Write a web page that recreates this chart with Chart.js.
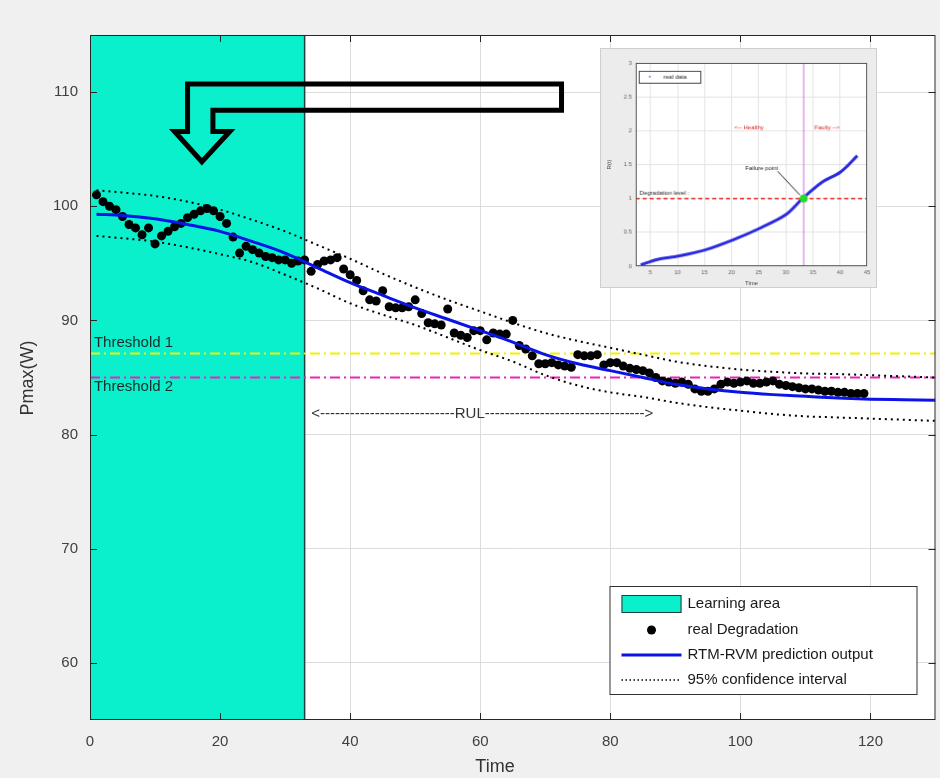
<!DOCTYPE html>
<html>
<head>
<meta charset="utf-8">
<script src="https://cdn.jsdelivr.net/npm/chart.js@4.4.0/dist/chart.umd.min.js"></script>
<style>
  body { margin: 0; background: #f0f0f0; }
  #wrap { position: relative; width: 940px; height: 778px; overflow: hidden; }
  #chart { position: absolute; left: 0; top: 0; }
  #inset { position: absolute; left: 600px; top: 48px; background: #ececec; border: 1px solid #cfcfcf; }
</style>
</head>
<body>
<div id="wrap">
  <canvas id="chart" width="940" height="778"></canvas>
  <canvas id="inset" width="277" height="240"></canvas>
</div>
<script>
// measured degradation (Time, Pmax)
const obsTime = [1,2,3,4,5,6,7,8,9,10,11,12,13,14,15,16,17,18,19,20,
  21,22,23,24,25,26,27,28,29,30,31,32,33,34,35,36,37,38,39,40,
  41,42,43,44,45,46,47,48,49,50,51,52,53,54,55,56,57,58,59,60,
  61,62,63,64,65,66,67,68,69,70,71,72,73,74,75,76,77,78,79,80,
  81,82,83,84,85,86,87,88,89,90,91,92,93,94,95,96,97,98,99,100,
  101,102,103,104,105,106,107,108,109,110,111,112,113,114,115,116,117,118,119];
const obsPmax = [101.0,100.4,100.0,99.7,99.1,98.4,98.1,97.5,98.1,96.7,97.4,97.8,98.2,98.5,99.0,99.3,99.6,99.8,99.6,99.1,
  98.5,97.3,95.9,96.5,96.2,95.9,95.6,95.5,95.3,95.3,95.0,95.2,95.3,94.3,94.9,95.2,95.3,95.5,94.5,94.0,
  93.5,92.6,91.8,91.7,92.6,91.2,91.1,91.1,91.2,91.8,90.6,89.8,89.7,89.6,91.0,88.9,88.7,88.5,89.1,89.1,
  88.3,88.9,88.8,88.8,90.0,87.8,87.5,86.9,86.2,86.2,86.3,86.1,86.0,85.9,87.0,86.9,86.9,87.0,86.1,86.3,
  86.3,86.0,85.8,85.7,85.6,85.4,85.0,84.7,84.6,84.5,84.6,84.4,84.0,83.8,83.8,84.0,84.4,84.6,84.5,84.6,
  84.7,84.5,84.5,84.6,84.7,84.4,84.3,84.2,84.1,84.0,84.0,83.9,83.8,83.8,83.7,83.7,83.6,83.6,83.6];

// RTM-RVM prediction and 95% band
const fitTime = [1,5,10,15,20,25,30,35,40,45,50,55,60,65,70,75,80,85,90,95,100,105,110,115,120,125,130];
const fitPmax = [99.3,99.2,98.9,98.4,97.8,96.9,95.9,94.6,93.3,92.2,91.1,90.1,89.1,88.1,87.0,86.2,85.6,85.0,84.4,84.0,83.7,83.5,83.35,83.2,83.1,83.05,83.0];
const ciUpper = [101.4,101.2,100.9,100.4,99.7,98.8,97.8,96.6,95.4,94.1,92.9,91.8,90.8,89.8,88.9,88.2,87.6,87.0,86.4,86.0,85.7,85.5,85.35,85.3,85.2,85.1,85.0];
const ciLower = [97.4,97.2,96.9,96.4,95.8,95.1,94.0,92.8,91.5,90.5,89.6,88.5,87.4,86.4,85.2,84.3,83.7,83.3,82.8,82.4,82.1,81.8,81.6,81.5,81.4,81.3,81.2];

const learnStart = 0, learnEnd = 33;
const threshold1 = 87.1, threshold2 = 85.0;
const rulStart = 34, rulEnd = 86.7, rulLevel = 81.8;
const xRange = [0, 130], yRange = [55, 115];
const xTicks = [0,20,40,60,80,100,120];
const yTicks = [60,70,80,90,100,110];
const legendLabels = ['Learning area', 'real Degradation', 'RTM-RVM prediction output', '95% confidence interval'];

// inset (small figure pasted in the corner)
const insetTime = [3.2,6.3,10.2,15.1,20.3,25.2,30.0,33.1,36.7,40.1,43.2];
const insetValue = [0.02,0.10,0.15,0.24,0.39,0.56,0.76,1.00,1.24,1.39,1.63];
const insetXTicks = [5,10,15,20,25,30,35,40,45];
const insetYTicks = [0,0.5,1,1.5,2,2.5,3];
const insetThreshold = 1.0, insetFailTime = 33.3;

const TEAL = '#0af0cc';
const FONT = '"Liberation Sans", Arial, sans-serif';

const pts = (xs, ys) => xs.map((x, i) => ({ x, y: ys[i] }));

const frame = {
  id: 'frame',
  beforeDraw(chart) {
    const { ctx, chartArea: a } = chart;
    ctx.save();
    ctx.fillStyle = '#ffffff';
    ctx.fillRect(a.left, a.top, a.right - a.left, a.bottom - a.top);
    ctx.restore();
  },
  afterDatasetsDraw(chart) {
    const { ctx, chartArea: a, scales: { x, y } } = chart;
    ctx.save();
    ctx.strokeStyle = '#262626';
    ctx.lineWidth = 1;
    ctx.strokeRect(a.left + 0.5, a.top + 0.5, a.right - a.left - 1, a.bottom - a.top - 1);
    ctx.beginPath();
    xTicks.forEach(v => {
      const px = Math.round(x.getPixelForValue(v)) + 0.5;
      ctx.moveTo(px, a.bottom); ctx.lineTo(px, a.bottom - 7);
      ctx.moveTo(px, a.top); ctx.lineTo(px, a.top + 7);
    });
    yTicks.forEach(v => {
      const py = Math.round(y.getPixelForValue(v)) + 0.5;
      ctx.moveTo(a.left, py); ctx.lineTo(a.left + 7, py);
      ctx.moveTo(a.right, py); ctx.lineTo(a.right - 7, py);
    });
    ctx.stroke();

    // threshold labels
    ctx.font = '15px ' + FONT;
    ctx.fillStyle = '#1c2a2a';
    ctx.textAlign = 'left';
    ctx.textBaseline = 'bottom';
    ctx.fillText('Threshold 1', x.getPixelForValue(0.6), y.getPixelForValue(threshold1) - 3);
    ctx.textBaseline = 'top';
    ctx.fillText('Threshold 2', x.getPixelForValue(0.6), y.getPixelForValue(threshold2) + 2);

    // RUL span written with dashes
    const x0 = x.getPixelForValue(rulStart), x1 = x.getPixelForValue(rulEnd);
    const yr = y.getPixelForValue(rulLevel);
    ctx.fillStyle = '#333333';
    ctx.textBaseline = 'middle';
    const mid = x0 + (x1 - x0) * 0.46;
    const wR = ctx.measureText('RUL').width;
    const wD = ctx.measureText('-').width;
    const nL = Math.max(0, Math.round((mid - wR / 2 - x0 - ctx.measureText('<').width) / wD));
    const nR = Math.max(0, Math.round((x1 - (mid + wR / 2) - ctx.measureText('>').width) / wD));
    ctx.fillText('<' + '-'.repeat(nL) + 'RUL' + '-'.repeat(nR) + '>', x0, yr);

    // bent outline arrow pointing into the learning area
    const shape = [[72.5,110.7],[15,110.7],[15,106.55],[13,106.55],[17.2,103.9],[21.5,106.55],[18.9,106.55],[18.9,108.4],[72.5,108.4]];
    ctx.beginPath();
    shape.forEach(([vx, vy], i) => {
      const px = x.getPixelForValue(vx), py = y.getPixelForValue(vy);
      if (i === 0) ctx.moveTo(px, py); else ctx.lineTo(px, py);
    });
    ctx.closePath();
    ctx.lineWidth = 5;
    ctx.lineJoin = 'miter';
    ctx.strokeStyle = '#000000';
    ctx.stroke();

    // legend box
    const bw = 307, bh = 108;
    const bx = a.right - 19 - bw, by = a.bottom - 26 - bh;
    ctx.fillStyle = '#ffffff';
    ctx.fillRect(bx, by, bw, bh);
    ctx.lineWidth = 1;
    ctx.strokeStyle = '#333333';
    ctx.strokeRect(bx + 0.5, by + 0.5, bw, bh);
    const rows = [by + 18, by + 44, by + 69, by + 94];
    const ix0 = bx + 12, ix1 = bx + 72;
    // teal patch
    ctx.fillStyle = TEAL;
    ctx.fillRect(ix0, rows[0] - 9, ix1 - ix0, 18);
    ctx.strokeStyle = '#1f4040';
    ctx.strokeRect(ix0 + 0.5, rows[0] - 8.5, ix1 - ix0 - 1, 17);
    // dot
    ctx.fillStyle = '#000000';
    ctx.beginPath(); ctx.arc((ix0 + ix1) / 2, rows[1], 4.5, 0, Math.PI * 2); ctx.fill();
    // blue line
    ctx.strokeStyle = '#0a14e6'; ctx.lineWidth = 3;
    ctx.beginPath(); ctx.moveTo(ix0, rows[2]); ctx.lineTo(ix1, rows[2]); ctx.stroke();
    // dotted
    ctx.strokeStyle = '#000000'; ctx.lineWidth = 1.5; ctx.setLineDash([1.5, 2.5]);
    ctx.beginPath(); ctx.moveTo(ix0, rows[3]); ctx.lineTo(ix1, rows[3]); ctx.stroke();
    ctx.setLineDash([]);
    ctx.fillStyle = '#1a1a1a';
    ctx.font = '15px ' + FONT;
    ctx.textAlign = 'left';
    ctx.textBaseline = 'middle';
    legendLabels.forEach((t, i) => ctx.fillText(t, ix1 + 6, rows[i]));

    // axis titles
    ctx.fillStyle = '#333333';
    ctx.font = '18px ' + FONT;
    ctx.textAlign = 'center';
    ctx.textBaseline = 'middle';
    ctx.fillText('Time', 495, 767);
    ctx.translate(28, 378);
    ctx.rotate(-Math.PI / 2);
    ctx.fillText('Pmax(W)', 0, 0);
    ctx.restore();
  }
};

new Chart(document.getElementById('chart'), {
  type: 'line',
  data: {
    datasets: [
      { data: pts(fitTime, ciUpper), borderColor: '#000', borderWidth: 2, borderDash: [2, 4],
        pointRadius: 0, cubicInterpolationMode: 'monotone', order: 1 },
      { data: pts(fitTime, ciLower), borderColor: '#000', borderWidth: 2, borderDash: [2, 4],
        pointRadius: 0, cubicInterpolationMode: 'monotone', order: 1 },
      { data: pts(fitTime, fitPmax), borderColor: '#0a14e6', borderWidth: 3,
        pointRadius: 0, cubicInterpolationMode: 'monotone', order: 2 },
      { data: pts(obsTime, obsPmax), showLine: false, pointRadius: 4.5,
        pointBackgroundColor: '#000', pointBorderWidth: 0, order: 3 },
      { data: [{ x: xRange[0], y: threshold1 }, { x: xRange[1], y: threshold1 }], borderColor: '#f2f200',
        borderWidth: 2, borderDash: [10, 4, 2, 4], pointRadius: 0, order: 4 },
      { data: [{ x: xRange[0], y: threshold2 }, { x: xRange[1], y: threshold2 }], borderColor: '#f020c0',
        borderWidth: 2, borderDash: [10, 4, 2, 4], pointRadius: 0, order: 4 },
      { data: [{ x: learnStart, y: yRange[0] }, { x: learnStart, y: yRange[1] }, { x: learnEnd, y: yRange[1] }, { x: learnEnd, y: yRange[0] }],
        borderColor: '#1f4040', borderWidth: 1.5, pointRadius: 0, order: 5 },
      { data: [{ x: learnStart, y: yRange[1] }, { x: learnEnd, y: yRange[1] }], fill: { value: yRange[0] },
        backgroundColor: TEAL, borderWidth: 0, pointRadius: 0, order: 6 }
    ]
  },
  options: {
    responsive: false,
    animation: false,
    layout: { padding: { top: 35, right: 3, left: 0, bottom: 0 } },
    plugins: { legend: { display: false }, tooltip: { enabled: false } },
    scales: {
      x: {
        type: 'linear', min: xRange[0], max: xRange[1],
        afterBuildTicks: s => { s.ticks = xTicks.map(v => ({ value: v })); },
        afterFit: s => { s.height = 58; },
        grid: { color: '#dcdcdc', drawTicks: false },
        border: { display: false },
        ticks: { padding: 13, color: '#404040', font: { family: FONT, size: 15 }, maxRotation: 0 }
      },
      y: {
        type: 'linear', min: yRange[0], max: yRange[1],
        afterBuildTicks: s => { s.ticks = yTicks.map(v => ({ value: v })); },
        afterFit: s => { s.width = 90; },
        grid: { color: '#dcdcdc', drawTicks: false },
        border: { display: false },
        ticks: { padding: 12, color: '#404040', font: { family: FONT, size: 15 } }
      }
    }
  },
  plugins: [frame]
});

// ---- inset ----
const insetDeco = {
  id: 'insetDeco',
  beforeDraw(chart) {
    const { ctx, chartArea: a } = chart;
    ctx.save();
    ctx.fillStyle = '#ffffff';
    ctx.fillRect(a.left, a.top, a.right - a.left, a.bottom - a.top);
    ctx.restore();
  },
  afterDatasetsDraw(chart) {
    const { ctx, chartArea: a, scales: { x, y } } = chart;
    ctx.save();
    ctx.strokeStyle = '#555';
    ctx.lineWidth = 1;
    ctx.strokeRect(a.left + 0.5, a.top + 0.5, a.right - a.left - 1, a.bottom - a.top - 1);
    ctx.font = '6px ' + FONT;
    ctx.textBaseline = 'middle';
    // legend
    ctx.fillStyle = '#fff';
    ctx.fillRect(a.left + 3, a.top + 8, 62, 12);
    ctx.strokeStyle = '#444';
    ctx.strokeRect(a.left + 3.5, a.top + 8.5, 62, 12);
    ctx.fillStyle = '#2222cc';
    ctx.fillText('*', a.left + 13, a.top + 15);
    ctx.fillStyle = '#222';
    ctx.fillText('real data', a.left + 28, a.top + 14.5);
    // red annotations
    ctx.fillStyle = '#e02020';
    ctx.fillText('<-- Healthy', x.getPixelForValue(20.5), y.getPixelForValue(2.05));
    ctx.fillText('Faulty -->', x.getPixelForValue(35.3), y.getPixelForValue(2.05));
    ctx.fillStyle = '#222';
    ctx.fillText('Degradation level :', x.getPixelForValue(3), y.getPixelForValue(1.08));
    ctx.fillText('Failure point', x.getPixelForValue(22.5), y.getPixelForValue(1.45));
    ctx.strokeStyle = '#222';
    ctx.beginPath();
    ctx.moveTo(x.getPixelForValue(28.5), y.getPixelForValue(1.4));
    ctx.lineTo(x.getPixelForValue(32.6), y.getPixelForValue(1.05));
    ctx.stroke();
    // axis titles
    ctx.fillStyle = '#444';
    ctx.textAlign = 'center';
    ctx.fillText('Time', (a.left + a.right) / 2, a.bottom + 17);
    ctx.translate(a.left - 27, (a.top + a.bottom) / 2);
    ctx.rotate(-Math.PI / 2);
    ctx.fillText('R(t)', 0, 0);
    ctx.restore();
  }
};

new Chart(document.getElementById('inset'), {
  type: 'line',
  data: {
    datasets: [
      { data: [{ x: insetFailTime, y: 1.0 }], showLine: false, pointRadius: 4,
        pointBackgroundColor: '#22dd22', pointBorderWidth: 0, order: 0 },
      { data: pts(insetTime, insetValue), borderColor: '#2a2ae0', borderWidth: 3,
        pointRadius: 0, tension: 0.3, order: 1 },
      { data: [{ x: 2.3, y: insetThreshold }, { x: 45, y: insetThreshold }], borderColor: '#ee2222',
        borderWidth: 1.5, borderDash: [4, 3], pointRadius: 0, order: 2 },
      { data: [{ x: insetFailTime, y: 0 }, { x: insetFailTime, y: 3 }], borderColor: '#d070e0',
        borderWidth: 1, pointRadius: 0, order: 3 }
    ]
  },
  options: {
    responsive: false,
    animation: false,
    layout: { padding: { top: 14, right: 9, left: 0, bottom: 0 } },
    plugins: { legend: { display: false }, tooltip: { enabled: false } },
    scales: {
      x: {
        type: 'linear', min: 2.3, max: 45,
        afterBuildTicks: s => { s.ticks = insetXTicks.map(v => ({ value: v })); },
        afterFit: s => { s.height = 21; },
        grid: { color: '#e4e4e4', drawTicks: false },
        border: { display: false },
        ticks: { padding: 3, color: '#666', font: { family: FONT, size: 6 }, maxRotation: 0, callback: v => String(v) }
      },
      y: {
        type: 'linear', min: 0, max: 3,
        afterBuildTicks: s => { s.ticks = insetYTicks.map(v => ({ value: v })); },
        afterFit: s => { s.width = 35; },
        grid: { color: '#e4e4e4', drawTicks: false },
        border: { display: false },
        ticks: { padding: 4, color: '#666', font: { family: FONT, size: 6 }, callback: v => String(v) }
      }
    }
  },
  plugins: [insetDeco]
});
</script>
</body>
</html>
